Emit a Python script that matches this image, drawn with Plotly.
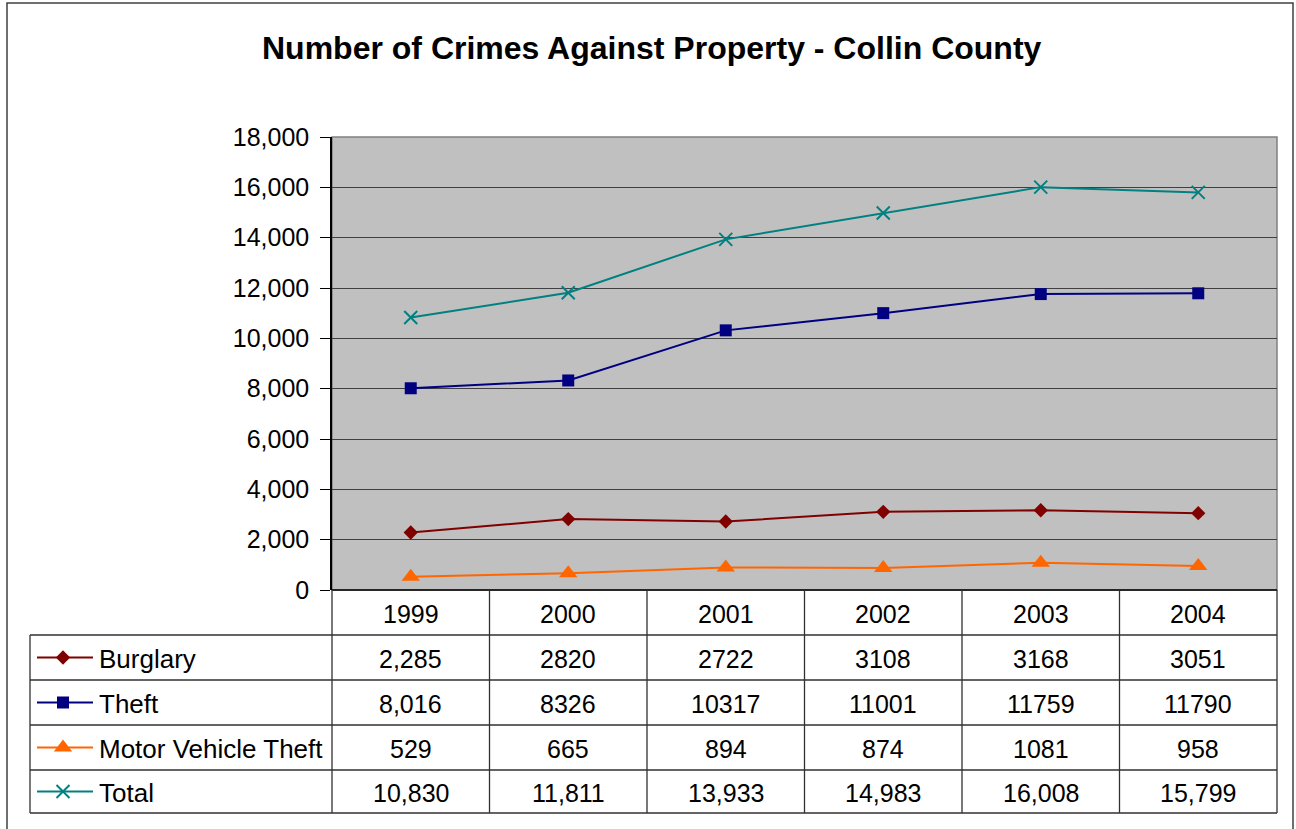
import plotly.graph_objects as go

# ---- data ----
years = ["1999", "2000", "2001", "2002", "2003", "2004"]
burglary = [2285, 2820, 2722, 3108, 3168, 3051]
theft = [8016, 8326, 10317, 11001, 11759, 11790]
mvt = [529, 665, 894, 874, 1081, 958]
total = [10830, 11811, 13933, 14983, 16008, 15799]

burglary_labels = ["2,285", "2820", "2722", "3108", "3168", "3051"]
theft_labels = ["8,016", "8326", "10317", "11001", "11759", "11790"]
mvt_labels = ["529", "665", "894", "874", "1081", "958"]
total_labels = ["10,830", "11,811", "13,933", "14,983", "16,008", "15,799"]

series_names = ["Burglary", "Theft", "Motor Vehicle Theft", "Total"]
y_ticks = [0, 2000, 4000, 6000, 8000, 10000, 12000, 14000, 16000, 18000]
title = "Number of Crimes Against Property - Collin County"

# ---- styling / layout ----
W, H = 1296, 829
FONT = "Liberation Sans, Arial, Helvetica, sans-serif"
colors = ["#800000", "#000080", "#FF6600", "#008080"]
symbols = ["diamond", "square", "triangle-up", "x-thin"]
sizes = [11, 12, 16, 13]

PX0, PX1 = 332, 1277       # plot area x (pixels)
PY0, PY1 = 137, 590        # plot area y (pixels)
TBL_L = 30                 # table left edge
row_edges = [590, 635, 680, 725, 770, 813]
ncol = len(years)
col_w = (PX1 - PX0) / ncol
col_edges = [PX0 + i * col_w for i in range(ncol + 1)]

fig = go.Figure()

all_vals = [burglary, theft, mvt, total]
all_labels = [burglary_labels, theft_labels, mvt_labels, total_labels]


def marker_style(c, s, sz):
    mk = dict(symbol=s, size=sz, color=c)
    if s == "x-thin":
        mk["line"] = dict(color=c, width=2)
    return mk


for name, vals, c, s, sz in zip(series_names, all_vals, colors, symbols, sizes):
    fig.add_trace(go.Scatter(
        x=years, y=vals, mode="lines+markers", name=name,
        line=dict(color=c, width=2), marker=marker_style(c, s, sz),
        xaxis="x", yaxis="y", showlegend=False, hoverinfo="x+y+name"))

# legend keys in the data table (pixel overlay axes)
for i, (c, s, sz) in enumerate(zip(colors, symbols, sizes)):
    yc = (row_edges[i + 1] + row_edges[i + 2]) / 2
    fig.add_trace(go.Scatter(
        x=[37, 93], y=[yc, yc], mode="lines", line=dict(color=c, width=2),
        xaxis="x2", yaxis="y2", showlegend=False, hoverinfo="skip"))
    fig.add_trace(go.Scatter(
        x=[63], y=[yc], mode="markers", marker=marker_style(c, s, sz),
        xaxis="x2", yaxis="y2", showlegend=False, hoverinfo="skip"))

shapes = []
# plot area background
shapes.append(dict(type="rect", xref="x domain", yref="y domain", x0=0, x1=1, y0=0, y1=1,
                   fillcolor="#C0C0C0", line=dict(color="#808080", width=1.5), layer="below"))
# outer chart border
shapes.append(dict(type="rect", xref="x2", yref="y2", x0=7, x1=1293, y0=3, y1=840,
                   line=dict(color="#404040", width=1.5), fillcolor="rgba(0,0,0,0)"))
# table horizontal lines
for j, ye in enumerate(row_edges):
    x0 = PX0 if j == 0 else TBL_L
    shapes.append(dict(type="line", xref="x2", yref="y2", x0=x0, x1=PX1, y0=ye, y1=ye,
                       line=dict(color="#000000" if j == 0 else "#303030", width=1.3)))
# table vertical lines
shapes.append(dict(type="line", xref="x2", yref="y2", x0=TBL_L, x1=TBL_L,
                   y0=row_edges[1], y1=row_edges[-1], line=dict(color="#303030", width=1.3)))
for xe in col_edges:
    shapes.append(dict(type="line", xref="x2", yref="y2", x0=xe, x1=xe,
                       y0=row_edges[0], y1=row_edges[-1], line=dict(color="#303030", width=1.3)))

annotations = []
annotations.append(dict(text="<b>" + title + "</b>", xref="x2", yref="y2", x=652, y=48,
                        showarrow=False, font=dict(family=FONT, size=32, color="black"),
                        xanchor="center", yanchor="middle"))
tfont = dict(family=FONT, size=25, color="black")
nfont = dict(family=FONT, size=26, color="black")
for k, yr in enumerate(years):
    xc = (col_edges[k] + col_edges[k + 1]) / 2
    annotations.append(dict(text=yr, xref="x2", yref="y2", x=xc,
                            y=(row_edges[0] + row_edges[1]) / 2 + 1,
                            showarrow=False, font=tfont, xanchor="center", yanchor="middle"))
for i, (name, labs) in enumerate(zip(series_names, all_labels)):
    yc = (row_edges[i + 1] + row_edges[i + 2]) / 2 + 1
    annotations.append(dict(text=name, xref="x2", yref="y2", x=97, y=yc, showarrow=False,
                            font=nfont, xanchor="left", yanchor="middle"))
    for k, lab in enumerate(labs):
        xc = (col_edges[k] + col_edges[k + 1]) / 2
        annotations.append(dict(text=lab, xref="x2", yref="y2", x=xc, y=yc, showarrow=False,
                                font=tfont, xanchor="center", yanchor="middle"))

fig.update_layout(
    width=W, height=H, margin=dict(l=0, r=0, t=0, b=0, pad=0, autoexpand=False),
    paper_bgcolor="white", plot_bgcolor="rgba(0,0,0,0)",
    font=dict(family=FONT, size=25, color="black"),
    xaxis=dict(domain=[PX0 / W, PX1 / W], type="category", categoryarray=years,
               range=[-0.5, ncol - 0.5], showticklabels=False, ticks="",
               showgrid=False, zeroline=False, showline=False, anchor="y", automargin=False),
    yaxis=dict(domain=[1 - PY1 / H, 1 - PY0 / H], range=[0, 18000], tickvals=y_ticks,
               tickformat=",d", ticks="outside", ticklen=10, tickcolor="black", tickwidth=1.3,
               showline=True, linecolor="black", linewidth=1.5, showgrid=True,
               gridcolor="#404040", gridwidth=1.2, zeroline=False, anchor="x",
               tickfont=dict(family=FONT, size=25, color="black"), ticklabelstandoff=6,
               automargin=False),
    xaxis2=dict(domain=[0, 1], range=[0, W], visible=False, anchor="y2", fixedrange=True,
                automargin=False),
    yaxis2=dict(domain=[0, 1], range=[H, 0], visible=False, anchor="x2", fixedrange=True,
                automargin=False),
    shapes=shapes, annotations=annotations, showlegend=False,
)

fig.write_html("out.html", config={"displayModeBar": False},
               post_script="document.body.style.margin='0';document.body.style.overflow='hidden';")
